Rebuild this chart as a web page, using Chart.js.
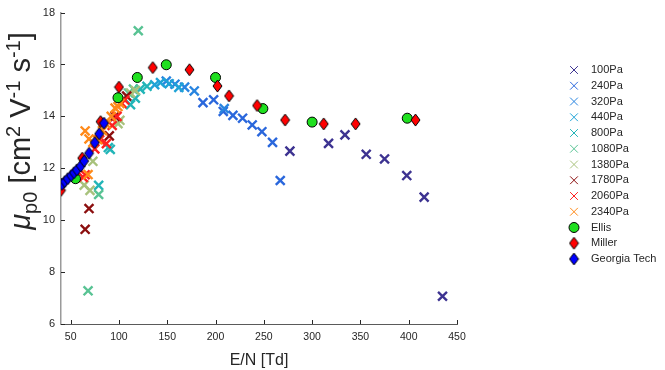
<!DOCTYPE html>
<html>
<head>
<meta charset="utf-8">
<script src="https://cdn.jsdelivr.net/npm/chart.js@4.4.1/dist/chart.umd.min.js"></script>
<style>
  html, body { margin: 0; padding: 0; background: #fff; }
  #wrap { width: 665px; height: 370px; }
</style>
</head>
<body>
<div id="wrap"><canvas id="mobility" width="665" height="370"></canvas></div>
<script>
// tick labels
var xTicks = [50, 100, 150, 200, 250, 300, 350, 400, 450];
var yTicks = [6, 8, 10, 12, 14, 16, 18];

// series names (legend order)
var seriesNames = ['100Pa', '240Pa', '320Pa', '440Pa', '800Pa', '1080Pa', '1380Pa',
  '1780Pa', '2060Pa', '2340Pa', 'Ellis', 'Miller', 'Georgia Tech'];

// E/N [Td] and mobility values
var en_100 = [277, 317, 334, 356, 375, 398, 416, 435];
var mu_100 = [12.66, 12.96, 13.29, 12.54, 12.36, 11.72, 10.89, 7.07];

var en_240 = [187, 198, 208, 218, 228, 238, 248, 259, 267];
var mu_240 = [14.53, 14.64, 14.19, 14.04, 13.93, 13.67, 13.41, 13.0, 11.53];

var en_320 = [149, 158, 168, 178, 209];
var mu_320 = [15.36, 15.24, 15.13, 14.98, 14.3];

var en_440 = [137, 143, 152, 162];
var mu_440 = [15.22, 15.3, 15.26, 15.12];

var en_800 = [79, 89, 91, 112, 117, 122, 129];
var mu_800 = [11.34, 12.8, 12.73, 14.45, 14.7, 15.05, 15.16];

var en_1080 = [68, 79, 120, 110, 115];
var mu_1080 = [7.28, 10.99, 17.3, 14.9, 15.05];

var en_1380 = [64, 70, 73, 99, 101, 112, 117];
var mu_1380 = [11.35, 11.15, 12.27, 13.72, 13.85, 14.9, 15.0];

var en_1780 = [65, 69, 90, 96, 108];
var mu_1780 = [9.65, 10.45, 13.25, 14.0, 14.78];

var en_2060 = [63, 65, 75, 80, 87, 93, 98, 103, 106];
var mu_2060 = [11.65, 11.75, 12.75, 13.1, 12.95, 13.65, 14.0, 14.5, 14.63];

var en_2340 = [65, 68, 69, 73, 78, 83, 87, 92, 96, 99, 101];
var mu_2340 = [13.44, 11.76, 13.13, 13.0, 13.1, 13.45, 13.7, 14.0, 14.32, 14.38, 14.5];

var en_ellis = [40, 55, 99, 119, 149, 200, 249, 300, 398.5];
var mu_ellis = [11.4, 11.6, 14.72, 15.5, 15.99, 15.5, 14.3, 13.78, 13.93];

var en_miller = [40, 62, 81, 100, 135, 173, 202, 214, 243, 272, 312, 345, 407];
var mu_miller = [11.15, 12.39, 13.8, 15.13, 15.88, 15.8, 15.17, 14.79, 14.42, 13.86, 13.71, 13.71, 13.86];

var en_gt = [41, 44, 47, 50.5, 53.5, 56.5, 60.5, 64, 69, 75, 79.5, 84.5];
var mu_gt = [11.38, 11.49, 11.6, 11.72, 11.83, 11.94, 12.09, 12.28, 12.58, 12.99, 13.33, 13.74];

var crossColors = ['#3d3391', '#2a67dc', '#2884e0', '#1fa3d6', '#22b5b8',
  '#59c394', '#a8c27c', '#8c0f0f', '#ff2020', '#ff8a1a'];

var FONT = "'Liberation Sans', Arial, Helvetica, sans-serif";

function pts(xs, ys) {
  return xs.map(function (v, i) { return { x: v, y: ys[i] }; });
}

// diamond marker (a bit taller than wide, like the matlab one)
function diamond(fill, w, h) {
  var c = document.createElement('canvas');
  c.width = w + 2; c.height = h + 2;
  var g = c.getContext('2d');
  var cx = c.width / 2, cy = c.height / 2;
  g.beginPath();
  g.moveTo(cx, cy - h / 2);
  g.lineTo(cx + w / 2, cy);
  g.lineTo(cx, cy + h / 2);
  g.lineTo(cx - w / 2, cy);
  g.closePath();
  g.fillStyle = fill;
  g.fill();
  g.lineWidth = 1;
  g.strokeStyle = '#000';
  g.stroke();
  return c;
}

var millerMark = diamond('#ff0000', 9, 12);
var gtMark = diamond('#0000ff', 9, 12);

var crossData = [
  [en_100, mu_100], [en_240, mu_240], [en_320, mu_320], [en_440, mu_440], [en_800, mu_800],
  [en_1080, mu_1080], [en_1380, mu_1380], [en_1780, mu_1780], [en_2060, mu_2060], [en_2340, mu_2340]
];

var datasets = crossData.map(function (d, i) {
  return {
    label: seriesNames[i],
    data: pts(d[0], d[1]),
    pointStyle: 'crossRot',
    pointRadius: 6.3,
    pointBorderWidth: 2.4,
    borderColor: crossColors[i],
    backgroundColor: crossColors[i],
    order: 13 - i
  };
});

datasets.push({
  label: 'Ellis',
  data: pts(en_ellis, mu_ellis),
  pointStyle: 'circle',
  pointRadius: 5,
  pointBorderWidth: 1,
  borderColor: '#000',
  backgroundColor: '#1fe01f',
  order: 3
});
datasets.push({
  label: 'Miller',
  data: pts(en_miller, mu_miller),
  pointStyle: millerMark,
  borderColor: '#000',
  backgroundColor: '#ff0000',
  order: 2
});
datasets.push({
  label: 'Georgia Tech',
  data: pts(en_gt, mu_gt),
  pointStyle: gtMark,
  borderColor: '#000',
  backgroundColor: '#0000ff',
  order: 1
});

// inward ticks, rich y label and the legend on the right
var extras = {
  id: 'extras',
  beforeDatasetsDraw: function (chart) {
    var ctx = chart.ctx, a = chart.chartArea, x = chart.scales.x, y = chart.scales.y;
    ctx.save();
    ctx.strokeStyle = '#262626';
    ctx.lineWidth = 1;
    ctx.beginPath();
    xTicks.forEach(function (v) {
      var px = Math.round(x.getPixelForValue(v)) + 0.5;
      ctx.moveTo(px, a.bottom);
      ctx.lineTo(px, a.bottom - 4);
    });
    yTicks.forEach(function (v) {
      var py = Math.round(y.getPixelForValue(v)) + 0.5;
      ctx.moveTo(a.left, py);
      ctx.lineTo(a.left + 4, py);
    });
    ctx.stroke();
    ctx.restore();
  },
  afterDraw: function (chart) {
    var ctx = chart.ctx;

    // y axis title: mu_p0 [cm^2 V^-1 s^-1]
    var big = 29, small = 20;
    var parts = [
      { t: '\u03bc', s: big, dy: 0, it: true },
      { t: 'p0', s: small, dy: 0.24 },
      { t: ' [cm', s: big, dy: 0 },
      { t: '2', s: small, dy: -0.36 },
      { t: ' V', s: big, dy: 0 },
      { t: '-1', s: small, dy: -0.36 },
      { t: ' s', s: big, dy: 0 },
      { t: '-1', s: small, dy: -0.36 },
      { t: ']', s: big, dy: 0 }
    ];
    ctx.save();
    var total = 0;
    parts.forEach(function (p) {
      ctx.font = (p.it ? 'italic ' : '') + p.s + 'px ' + FONT;
      p.w = ctx.measureText(p.t).width;
      total += p.w;
    });
    ctx.translate(30, 131);
    ctx.rotate(-Math.PI / 2);
    ctx.fillStyle = '#262626';
    ctx.textBaseline = 'alphabetic';
    var cur = -total / 2;
    parts.forEach(function (p) {
      ctx.font = (p.it ? 'italic ' : '') + p.s + 'px ' + FONT;
      ctx.fillText(p.t, cur, p.dy * big);
      cur += p.w;
    });
    ctx.restore();

    // legend
    ctx.save();
    ctx.font = '11px ' + FONT;
    ctx.textBaseline = 'middle';
    chart.data.datasets.forEach(function (ds, i) {
      var ly = 70 + i * 15.75;
      var style = ds.pointStyle;
      if (style === 'crossRot') {
        ctx.strokeStyle = ds.borderColor;
        ctx.fillStyle = ds.backgroundColor;
        Chart.helpers.drawPoint(ctx, { pointStyle: 'crossRot', radius: 5.5, borderWidth: 1, rotation: 0 }, 574, ly);
      } else {
        ctx.strokeStyle = '#000';
        ctx.fillStyle = ds.backgroundColor;
        ctx.lineWidth = 1;
        Chart.helpers.drawPoint(ctx, { pointStyle: style, radius: 5, borderWidth: 1, rotation: 0 }, 574, ly);
      }
      ctx.fillStyle = '#262626';
      ctx.fillText(ds.label, 591, ly);
    });
    ctx.restore();
  }
};

var ctx = document.getElementById('mobility').getContext('2d');

var mobilityChart = new Chart(ctx, {
  type: 'scatter',
  data: { datasets: datasets },
  options: {
    responsive: false,
    animation: false,
    events: [],
    layout: { padding: { top: 4, right: 208, left: 0, bottom: 0 } },
    plugins: {
      legend: { display: false },
      tooltip: { enabled: false }
    },
    scales: {
      x: {
        type: 'linear',
        min: 40,
        max: 450,
        afterBuildTicks: function (s) { s.ticks = xTicks.map(function (v) { return { value: v }; }); },
        afterFit: function (s) { s.height = 46; },
        grid: { display: false, drawTicks: false },
        border: { display: true, color: '#5a5a5a', width: 1 },
        ticks: { color: '#262626', font: { family: FONT, size: 10.5 }, padding: 7, maxRotation: 0 },
        title: { display: true, text: 'E/N [Td]', color: '#262626', font: { family: FONT, size: 16 }, padding: { top: 2, bottom: 0 } }
      },
      y: {
        type: 'linear',
        min: 6,
        max: 18,
        afterBuildTicks: function (s) { s.ticks = yTicks.map(function (v) { return { value: v }; }); },
        afterFit: function (s) { s.width = 61; },
        grid: { display: false, drawTicks: false },
        border: { display: true, color: '#9a9a9a', width: 1.5 },
        ticks: { color: '#262626', font: { family: FONT, size: 11 }, padding: 6 }
      }
    }
  },
  plugins: [extras]
});
</script>
</body>
</html>
